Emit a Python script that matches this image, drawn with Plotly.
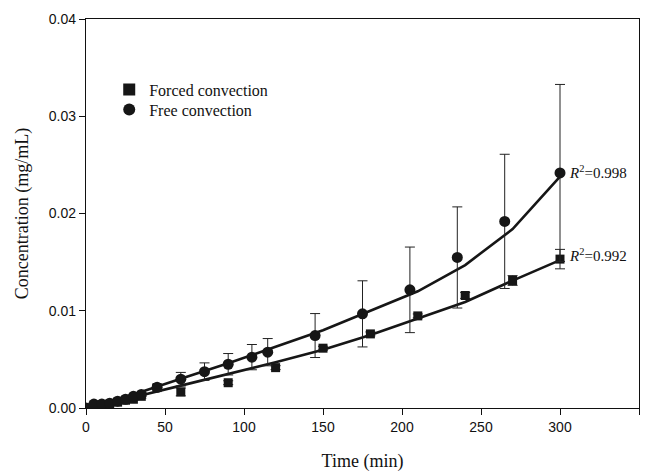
import plotly.graph_objects as go

# Measured data
forced_t = [0, 5, 10, 15, 20, 25, 30, 35, 45, 60, 90, 120, 150, 180, 210, 240, 270, 300]
forced_c = [0.0, 0.0002, 0.0003, 0.0004, 0.0006, 0.0008, 0.0009, 0.0012, 0.0021, 0.00165,
            0.0026, 0.00415, 0.00615, 0.00762, 0.00947, 0.01157, 0.01311, 0.01531]
forced_err = [0.0, 0.0001, 0.0001, 0.0001, 0.0001, 0.0001, 0.0001, 0.0002, 0.0002, 0.0004,
              0.0002, 0.0002, 0.0002, 0.0002, 0.0002, 0.0003, 0.0005, 0.0010]

free_t = [0, 5, 10, 15, 20, 25, 30, 35, 45, 60, 75, 90, 105, 115, 145, 175, 205, 235, 265, 300]
free_c = [0.0, 0.0004, 0.0004, 0.0005, 0.0007, 0.0009, 0.0012, 0.0014, 0.00213, 0.00296,
          0.00374, 0.0045, 0.00523, 0.00574, 0.00745, 0.00968, 0.01215, 0.01548, 0.01919, 0.02417]
free_err = [0.0, 0.0001, 0.0001, 0.0001, 0.0001, 0.0001, 0.0001, 0.0002, 0.0003, 0.0007,
            0.0009, 0.0011, 0.0013, 0.0014, 0.00226, 0.0034, 0.0044, 0.0052, 0.0069, 0.0091]

# Fitted curves
fit_t = [0, 30, 60, 90, 120, 150, 180, 210, 240, 270, 300]
forced_fit = [0.0, 0.0011, 0.0023, 0.0035, 0.0047, 0.0060, 0.0075, 0.0092, 0.0109, 0.0131, 0.0152]
free_fit = [0.0, 0.0014, 0.0030, 0.0046, 0.0063, 0.0080, 0.0100, 0.0120, 0.0147, 0.0184, 0.0238]

r2_labels = ["<i>R</i><sup>2</sup>=0.998", "<i>R</i><sup>2</sup>=0.992"]
r2_y = [0.0243, 0.0157]

INK = "#161616"
SERIF = "Liberation Serif, Times New Roman, serif"
SANS = "Liberation Sans, Arial, sans-serif"

fig = go.Figure()
fig.add_trace(go.Scatter(x=fit_t, y=free_fit, mode="lines", line=dict(color=INK, width=2.6),
                         showlegend=False, hoverinfo="skip"))
fig.add_trace(go.Scatter(x=fit_t, y=forced_fit, mode="lines", line=dict(color=INK, width=2.6),
                         showlegend=False, hoverinfo="skip"))
fig.add_trace(go.Scatter(
    x=forced_t, y=forced_c, mode="markers", name="Forced convection", legend="legend",
    marker=dict(symbol="square", size=9, color=INK),
    error_y=dict(type="data", array=forced_err, visible=True, color="#222", thickness=1, width=5),
))
fig.add_trace(go.Scatter(
    x=free_t, y=free_c, mode="markers", name="Free convection", legend="legend2",
    marker=dict(symbol="circle", size=11, color=INK),
    error_y=dict(type="data", array=free_err, visible=True, color="#222", thickness=1, width=5),
))

for lab, yv in zip(r2_labels, r2_y):
    fig.add_annotation(x=300, y=yv, text=lab, showarrow=False, xanchor="left", yanchor="middle",
                       xshift=7, font=dict(family=SERIF, size=15, color="#111"))

legend_style = dict(xanchor="left", yanchor="top", x=0.042,
                    font=dict(family=SERIF, size=16, color="#111"),
                    bgcolor="rgba(0,0,0,0)", itemsizing="constant")

fig.update_layout(
    width=642, height=464,
    margin=dict(l=78, r=11, t=11, b=64),
    paper_bgcolor="white", plot_bgcolor="white",
    legend=dict(y=0.862, **legend_style),
    legend2=dict(y=0.811, **legend_style),
)
fig.update_xaxes(
    range=[0, 350], tickvals=[0, 50, 100, 150, 200, 250, 300, 350],
    showline=True, linecolor="#111", linewidth=1.3, mirror=True,
    ticks="outside", ticklen=6, tickcolor="#111", tickwidth=1.2,
    showgrid=False, zeroline=False, automargin=False,
    tickfont=dict(family=SANS, size=14, color="#111"),
    title=dict(text="Time (min)", font=dict(family=SERIF, size=18, color="#111"), standoff=22),
)
fig.update_yaxes(
    range=[0, 0.04], tickvals=[0, 0.01, 0.02, 0.03, 0.04], tickformat=".2f",
    showline=True, linecolor="#111", linewidth=1.3, mirror=True,
    ticks="outside", ticklen=6, tickcolor="#111", tickwidth=1.2,
    showgrid=False, zeroline=False, automargin=False,
    tickfont=dict(family=SANS, size=14, color="#111"),
    title=dict(text="Concentration (mg/mL)", font=dict(family=SERIF, size=18, color="#111"), standoff=15),
)

fig.write_html("out.html")
